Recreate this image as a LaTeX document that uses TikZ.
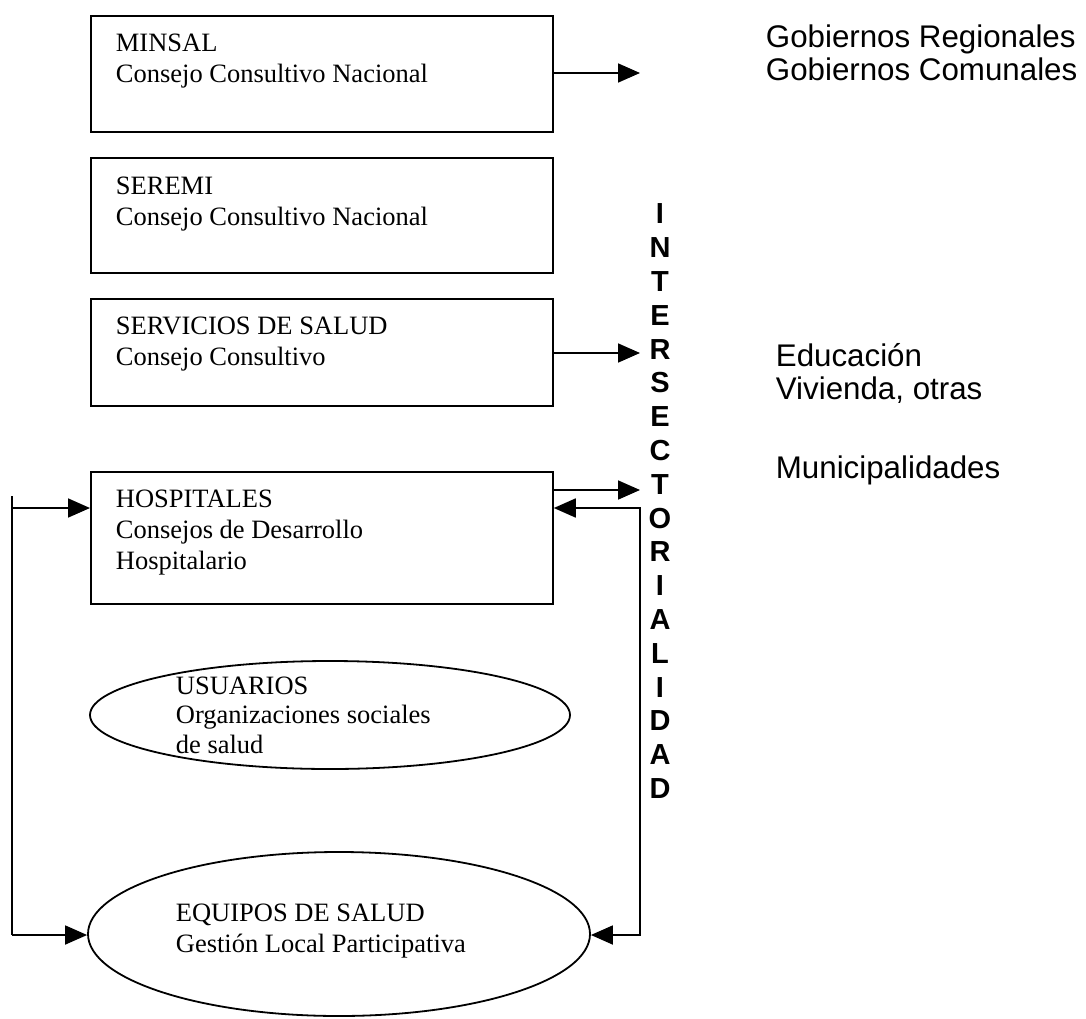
\documentclass[tikz,border=0pt]{standalone}
\usepackage{fontspec}
\setmainfont{Liberation Serif}
\newfontfamily\arialf{Liberation Sans}
\usetikzlibrary{arrows.meta,shapes.geometric}
\begin{document}
\begin{tikzpicture}[x=1pt,y=-1pt,line width=1.8pt,
  boxnode/.style={draw,rectangle,inner sep=0pt,anchor=north west,minimum width=462pt},
  ovalnode/.style={draw,ellipse,inner sep=0pt},
  boxtext/.style={anchor=base west,inner sep=0pt,font=\fontsize{26.5}{31}\selectfont},
  sidetext/.style={anchor=base west,inner sep=0pt,font=\arialf\fontsize{31.3}{33}\selectfont},
  arr/.style={-{Triangle[length=22pt,width=19pt]}},
  arrtwo/.style={{Triangle[length=22pt,width=19pt]}-{Triangle[length=22pt,width=19pt]}}]
\fill[white] (0,0) rectangle (1086,1019);
\useasboundingbox (0,0) rectangle (1086,1019);

% boxes
\node[boxnode,minimum height=116pt] (minsal) at (90,15) {};
\node[boxnode,minimum height=115pt] (seremi) at (90,157) {};
\node[boxnode,minimum height=107pt] (servicios) at (90,298) {};
\node[boxnode,minimum height=132pt] (hosp) at (90,471) {};

\node[boxtext] (tminsal) at (115,52) {\vtop{\baselineskip=31pt\hbox{MINSAL}\hbox{Consejo Consultivo Nacional}}};
\node[boxtext] (tseremi) at (115,194) {\vtop{\baselineskip=31pt\hbox{SEREMI}\hbox{Consejo Consultivo Nacional}}};
\node[boxtext] (tservicios) at (115,334) {\vtop{\baselineskip=31pt\hbox{SERVICIOS DE SALUD}\hbox{Consejo Consultivo}}};
\node[boxtext] (thosp) at (115,507) {\vtop{\baselineskip=31pt\hbox{HOSPITALES}\hbox{Consejos de Desarrollo}\hbox{Hospitalario}}};

% ellipses
\node[ovalnode,minimum width=480pt,minimum height=108pt] (usuarios) at (330,715) {};
\node[ovalnode,minimum width=502pt,minimum height=164pt] (equipos) at (339,934) {};
\node[boxtext] (tusuarios) at (175,694) {\vtop{\baselineskip=29.5pt\hbox{USUARIOS}\hbox{Organizaciones sociales}\hbox{de salud}}};
\node[boxtext] (tequipos) at (175,921) {\vtop{\baselineskip=31pt\hbox{EQUIPOS DE SALUD}\hbox{Gestión Local Participativa}}};

% vertical word
\node[anchor=north,inner sep=0pt,align=center,font=\arialf\bfseries\fontsize{29}{33.8}\selectfont] (inter) at (660,203)
  {I\\N\\T\\E\\R\\S\\E\\C\\T\\O\\R\\I\\A\\L\\I\\D\\A\\D};

% right side texts
\node[sidetext] (gob) at (765,48) {\vtop{\baselineskip=32.5pt\hbox{Gobiernos Regionales}\hbox{Gobiernos Comunales}}};
\node[sidetext] (edu) at (775,366) {\vtop{\baselineskip=33pt\hbox{Educación}\hbox{Vivienda, otras}}};
\node[sidetext] (muni) at (775,478) {Municipalidades};

% connectors
\coordinate (m1) at (640,73);
\coordinate (s1) at (640,353);
\coordinate (h1) at (640,490);
\coordinate (r1) at (640,508);
\coordinate (r2) at (640,935);
\coordinate (lt) at (12,496);
\coordinate (l1) at (12,508);
\coordinate (lb) at (12,935);

\draw[arr] (minsal.east |- m1) -- (m1);
\draw[arr] (servicios.east |- s1) -- (s1);
\draw[arr] (hosp.east |- h1) -- (h1);
\draw[arrtwo] (hosp.east |- r1) -- (r1) -- (r2) -- (equipos.east |- r2);
\draw (lt) -- (lb);
\draw[arr] (l1) -- (hosp.west |- l1);
\draw[arr] (lb) -- (equipos.west |- lb);
\end{tikzpicture}
\end{document}
